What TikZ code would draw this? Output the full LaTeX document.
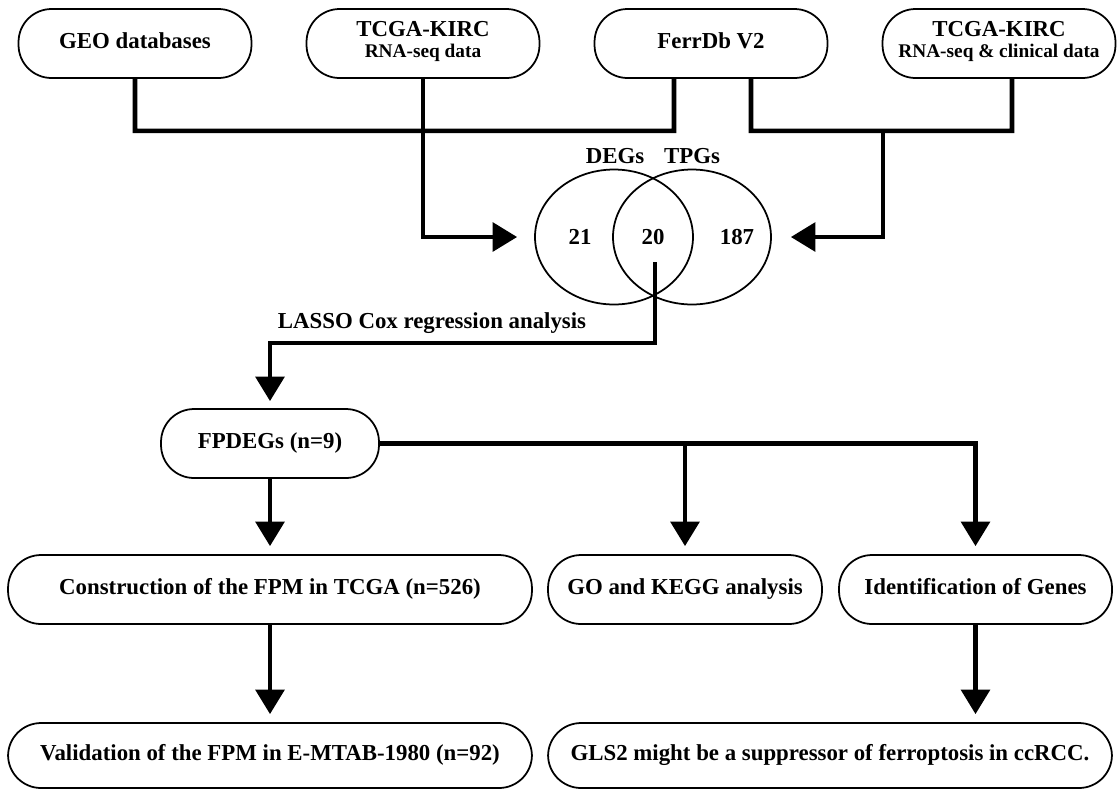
\documentclass[tikz,border=0pt]{standalone}
\usepackage{fontspec}
\setmainfont{Liberation Serif}
\usepackage{tikz}
\usetikzlibrary{arrows.meta,shapes.geometric,calc}
\tikzset{
  flowline/.style={line width=2.6pt, draw=black},
  flowarrow/.style={flowline, -{Triangle[length=0.49cm,width=0.57cm]}, shorten >=0.16cm}
}
\newcommand{\datanote}[1]{{\fontsize{11}{12}\selectfont #1}}

\begin{document}
\begin{tikzpicture}[
  x=0.02cm, y=-0.02cm,
  font=\fontsize{13}{15}\selectfont\bfseries,
  pill/.style={draw, line width=1pt, rounded corners=0.66cm, align=center, inner sep=0pt, minimum height=1.38cm, execute at begin node=\strut},
  vennset/.style={draw, ellipse, line width=1pt, minimum width=3.16cm, minimum height=2.7cm, inner sep=0pt}
]
\useasboundingbox (0,0) rectangle (1119,789);

% sources
\node[pill, minimum width=4.66cm] (geo) at (135,43.5) {GEO databases};
\node[pill, minimum width=4.66cm] (tcga) at (423,43.5) {TCGA-KIRC\\[-3pt]\datanote{RNA-seq data}};
\node[pill, minimum width=4.66cm] (ferr) at (711,43.5) {FerrDb V2};
\node[pill, minimum width=4.66cm] (clin) at (999,43.5) {TCGA-KIRC\\[-3pt]\datanote{RNA-seq \& clinical data}};

% venn
\node[vennset] (degs) at (614,237) {};
\node[vennset] (tpgs) at (692,237) {};
\node (degslbl) at (615,156) {DEGs};
\node (tpgslbl) at (692,156) {TPGs};
\node (nleft) at (580,237) {21};
\node (nboth) at (653,237) {20};
\node (nright) at (737,237) {187};

% steps
\node[pill, minimum width=4.36cm] (fpdeg) at (270,443.5) {FPDEGs (n=9)};
\node[pill, minimum width=10.48cm] (constr) at (270,589.5) {Construction of the FPM in TCGA (n=526)};
\node[pill, minimum width=5.48cm] (gokegg) at (685,589.5) {GO and KEGG analysis};
\node[pill, minimum width=5.46cm] (ident) at (975.5,589.5) {Identification of Genes};
\node[pill, minimum width=10.48cm, minimum height=1.3cm] (valid) at (270,755.5) {Validation of the FPM in E-MTAB-1980 (n=92)};
\node[pill, minimum width=11.28cm, minimum height=1.3cm] (gls) at (830,755.5) {GLS2 might be a suppressor of ferroptosis in ccRCC.};

\node (lasso) at (432,323) {LASSO Cox regression analysis};

% connectors
\coordinate (mergeR) at (883,130);
\coordinate (lassostart) at (655,262);
\draw[flowline] (geo.south) |- ($(ferr.south)+(-37,52)$) -- ([xshift=-0.74cm]ferr.south);
\draw[flowline] ([xshift=0.8cm]ferr.south) |- ($(clin.south)+(13,52)$) -- ([xshift=0.26cm]clin.south);
\draw[flowarrow, shorten >=0.34cm] (tcga.south) |- (degs.west);
\draw[flowarrow, shorten >=0.38cm] (mergeR) |- (tpgs.east);
\draw[flowarrow, shorten >=0.14cm] (lassostart) -- ++(0,81) -| (fpdeg.north);
\draw[flowarrow] (fpdeg.south) -- (constr.north);
\draw[flowarrow] (fpdeg.east) -| (gokegg.north);
\draw[flowarrow] (fpdeg.east) -| (ident.north);
\draw[flowarrow] (constr.south) -- (valid.north);
\draw[flowarrow] (ident.south) -- (ident.south |- gls.north);
\end{tikzpicture}
\end{document}
